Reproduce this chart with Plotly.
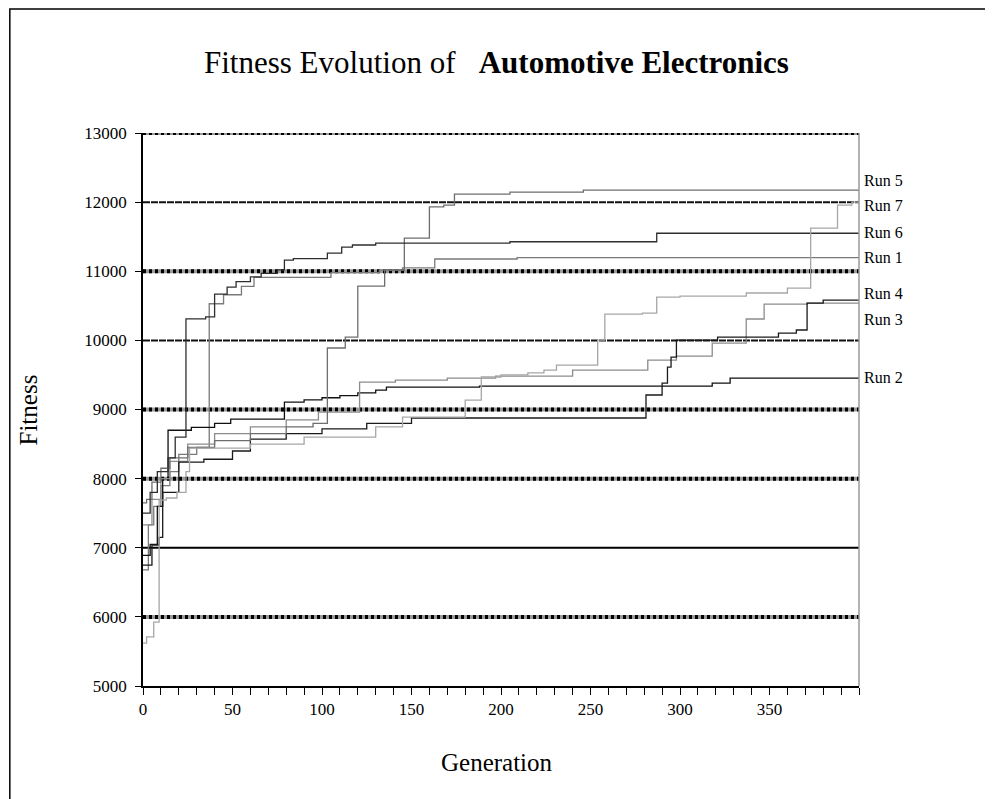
import plotly.graph_objects as go

# ---------------- data ----------------
run1_gen = [0, 3, 6, 10, 15, 20, 30, 37, 45, 55, 62, 105, 132, 145, 163, 209, 400]
run1_fit = [6680, 7330, 7600, 7900, 8100, 8350, 8450, 10530, 10660, 10780, 10910, 10980, 11017, 11050, 11177, 11196, 11196]

run2_gen = [0, 4, 8, 11, 14, 27, 40, 49, 79, 90, 100, 110, 120, 130, 136, 188, 318, 328, 400]
run2_fit = [6890, 7050, 7600, 8000, 8700, 8740, 8800, 8862, 9108, 9140, 9170, 9200, 9240, 9280, 9325, 9339, 9383, 9455, 9455]

run3_gen = [0, 5, 10, 15, 25, 40, 60, 80, 98, 121, 141, 170, 197, 240, 282, 298, 318, 337, 347, 371, 400]
run3_fit = [7330, 7700, 8000, 8250, 8500, 8650, 8750, 8850, 8963, 9397, 9426, 9455, 9484, 9570, 9715, 9773, 9961, 10309, 10525, 10540, 10540]

run4_gen = [0, 5, 9, 11, 20, 34, 50, 60, 80, 100, 125, 150, 281, 290, 293, 295, 298, 321, 355, 365, 371, 380, 400]
run4_fit = [6750, 7040, 7150, 7800, 8240, 8280, 8400, 8570, 8650, 8720, 8800, 8877, 9210, 9383, 9614, 9759, 10005, 10048, 10106, 10150, 10540, 10583, 10583]

run5_gen = [0, 2, 5, 10, 15, 25, 40, 60, 80, 95, 103, 113, 120, 135, 146, 160, 168, 174, 205, 246, 400]
run5_fit = [7650, 7700, 7950, 8150, 8300, 8450, 8550, 8650, 8750, 8800, 9890, 10048, 10786, 11018, 11480, 11930, 11958, 12117, 12146, 12175, 12175]

run6_gen = [0, 4, 8, 14, 18, 24, 35, 40, 47, 52, 60, 66, 75, 79, 84, 103, 111, 117, 130, 205, 287, 400]
run6_fit = [7500, 7800, 8100, 8300, 8600, 10310, 10340, 10670, 10770, 10850, 10920, 10970, 11020, 11160, 11183, 11263, 11350, 11380, 11408, 11427, 11550, 11550]

run7_gen = [0, 2, 6, 9, 13, 19, 24, 26, 60, 90, 130, 145, 180, 189, 200, 215, 224, 231, 254, 258, 279, 287, 300, 337, 360, 373, 388, 396, 400]
run7_fit = [5620, 5710, 5925, 7690, 7720, 7800, 8100, 8440, 8500, 8600, 8750, 8890, 9137, 9470, 9500, 9530, 9570, 9643, 10005, 10380, 10395, 10627, 10640, 10685, 10757, 11625, 11958, 12000, 12000]

run_names = ["Run 1", "Run 2", "Run 3", "Run 4", "Run 5", "Run 6", "Run 7"]
x_tick_vals = [0, 50, 100, 150, 200, 250, 300, 350]
y_tick_vals = [5000, 6000, 7000, 8000, 9000, 10000, 11000, 12000, 13000]
heavy_grid = [6000, 8000, 9000, 11000, 13000]
light_grid = [10000, 12000]
solid_grid = [7000]

runs = {
    "Run 1": (run1_gen, run1_fit),
    "Run 2": (run2_gen, run2_fit),
    "Run 3": (run3_gen, run3_fit),
    "Run 4": (run4_gen, run4_fit),
    "Run 5": (run5_gen, run5_fit),
    "Run 6": (run6_gen, run6_fit),
    "Run 7": (run7_gen, run7_fit),
}

# ---------------- style ----------------
colors = {
    "Run 1": "#7a7a7a",
    "Run 2": "#101010",
    "Run 3": "#8c8c8c",
    "Run 4": "#1a1a1a",
    "Run 5": "#6e6e6e",
    "Run 6": "#2e2e2e",
    "Run 7": "#a6a6a6",
}
label_shift = {"Run 1": 0, "Run 2": 1, "Run 3": -16, "Run 4": 7, "Run 5": 10, "Run 6": 1, "Run 7": -3}
FONT = "Liberation Serif, Times New Roman, serif"

fig = go.Figure()
for name in run_names:
    g, f = runs[name]
    fig.add_trace(go.Scatter(x=g, y=f, mode="lines", name=name, line_shape="hv",
                             line=dict(color=colors[name], width=1.3), showlegend=False))

shapes = []
for v in heavy_grid:
    shapes.append(dict(type="line", xref="paper", x0=0, x1=1, yref="y", y0=v, y1=v,
                       line=dict(color="#9a9a9a", width=4), layer="below"))
    shapes.append(dict(type="line", xref="paper", x0=0, x1=1, yref="y", y0=v, y1=v,
                       line=dict(color="black", width=4, dash="3px,3px"), layer="below"))
for v in light_grid:
    shapes.append(dict(type="line", xref="paper", x0=0, x1=1, yref="y", y0=v, y1=v,
                       line=dict(color="#111111", width=2, dash="7px,1px"), layer="below"))
for v in solid_grid:
    shapes.append(dict(type="line", xref="paper", x0=0, x1=1, yref="y", y0=v, y1=v,
                       line=dict(color="black", width=2), layer="below"))
# right border of plot area (gray)
shapes.append(dict(type="line", xref="paper", x0=1, x1=1, yref="paper", y0=0, y1=1,
                   line=dict(color="#9a9a9a", width=1.5)))
# outer frame
shapes.append(dict(type="rect", xref="paper", yref="paper", x0=-0.186, x1=1.1802, y0=-0.26, y1=1.2242,
                   line=dict(color="black", width=1.5), fillcolor="rgba(0,0,0,0)"))

annotations = [
    dict(text="Fitness Evolution of &nbsp; <b>Automotive Electronics</b>", xref="paper", yref="paper",
         x=0.494, y=1.128, xanchor="center", yanchor="middle", showarrow=False,
         font=dict(family=FONT, size=31, color="black")),
    dict(text="Fitness", xref="paper", yref="paper", x=-0.16, y=0.499, textangle=-90,
         xanchor="center", yanchor="middle", showarrow=False,
         font=dict(family=FONT, size=25, color="black")),
    dict(text="Generation", xref="paper", yref="paper", x=0.494, y=-0.139,
         xanchor="center", yanchor="middle", showarrow=False,
         font=dict(family=FONT, size=25, color="black")),
]
for name in run_names:
    g, f = runs[name]
    annotations.append(dict(text=name, xref="paper", yref="y", x=1, y=f[-1], xanchor="left",
                            yanchor="middle", xshift=3, yshift=label_shift[name], showarrow=False,
                            font=dict(family=FONT, size=16, color="black")))

fig.update_layout(
    width=993, height=799,
    margin=dict(l=135, r=142, t=125, b=121),
    paper_bgcolor="white", plot_bgcolor="white",
    shapes=shapes, annotations=annotations,
    xaxis=dict(range=[0, 400], tickvals=x_tick_vals, ticks="outside", ticklen=7, tickwidth=1,
               tickcolor="black", showline=True, linecolor="black", linewidth=1.5,
               showgrid=False, zeroline=False, ticklabelstandoff=0,
               minor=dict(dtick=10, tick0=0, ticks="outside", ticklen=7, tickcolor="black", showgrid=False),
               tickfont=dict(family=FONT, size=17, color="black")),
    yaxis=dict(range=[5000, 13000], tickvals=y_tick_vals, tickformat="d", ticks="outside", ticklen=6,
               tickwidth=1, tickcolor="black", showline=True, linecolor="black", linewidth=1.5,
               showgrid=False, zeroline=False, ticklabelstandoff=5,
               tickfont=dict(family=FONT, size=17, color="black")),
)

fig.write_html("out.html")
